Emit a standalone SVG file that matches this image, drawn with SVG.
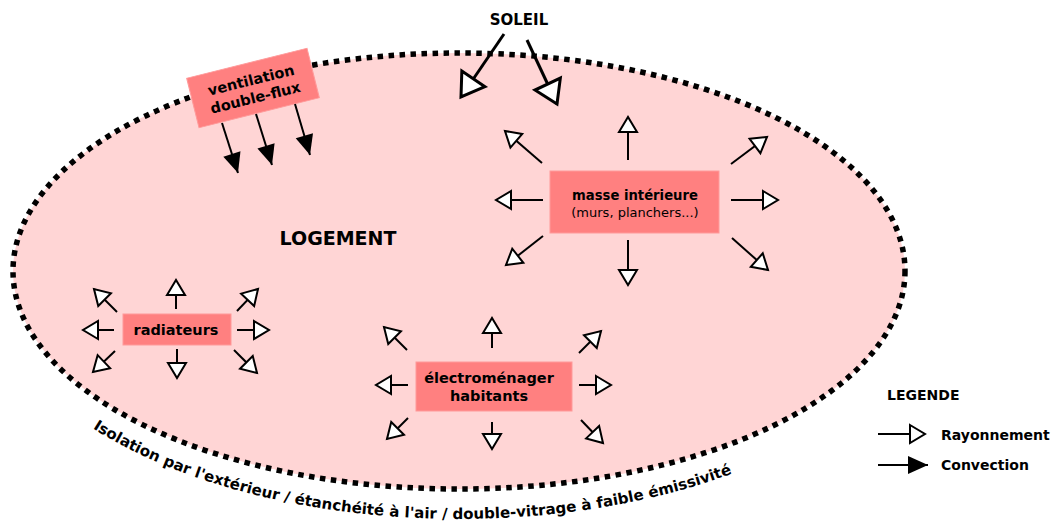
<svg xmlns="http://www.w3.org/2000/svg" width="1058" height="525" viewBox="0 0 1058 525">
<style>
.box{fill:#ff8080;stroke:#ff9a9a;stroke-width:1}
.t{font-family:"DejaVu Sans",Verdana,sans-serif;font-weight:bold;fill:#000}
.r{stroke:#000;stroke-width:2;fill:none;marker-end:url(#rad)}
.c{stroke:#000;stroke-width:2;fill:none;marker-end:url(#conv)}
.s{stroke:#000;stroke-width:3;fill:none;marker-end:url(#sun)}
</style>
<defs>
<marker id="rad" markerUnits="userSpaceOnUse" viewBox="-18 -12 21 24" markerWidth="21" markerHeight="24" refX="0" refY="0" orient="auto">
<path d="M-15,-9 L0,0 L-15,9 Z" fill="#fff" stroke="#000" stroke-width="2"/>
</marker>
<marker id="sun" markerUnits="userSpaceOnUse" viewBox="-27 -18 31 36" markerWidth="31" markerHeight="36" refX="0" refY="0" orient="auto">
<path d="M-22,-14 L0,0 L-22,14 Z" fill="#fff" stroke="#000" stroke-width="3"/>
</marker>
<marker id="conv" markerUnits="userSpaceOnUse" viewBox="-22 -11 24 22" markerWidth="24" markerHeight="22" refX="0" refY="0" orient="auto">
<path d="M-20,-9 L0,0 L-20,9 Z" fill="#000"/>
</marker>
<path id="bottomArc" d="M-15,271 A474,248 0 0 0 933,271"/>
</defs>

<g id="logement">
<ellipse cx="459" cy="271" rx="446" ry="218" fill="#ffd5d5" stroke="#000" stroke-width="5.5" stroke-dasharray="5.5 5.5"/>
<text class="t" x="338" y="245" font-size="19" text-anchor="middle">LOGEMENT</text>
<text class="t" font-size="15"><textPath href="#bottomArc" startOffset="529" text-anchor="middle">Isolation par l'extérieur / étanchéité à l'air / double-vitrage à faible émissivité</textPath></text>
</g>

<g id="soleil">
<text class="t" x="519" y="25" font-size="15" text-anchor="middle">SOLEIL</text>
</g>

<g id="ventilation" transform="translate(253,88) rotate(-14)">
<rect class="box" x="-62" y="-25.5" width="124" height="51"/>
<text class="t" x="0" y="-3" font-size="14.5" text-anchor="middle">ventilation</text>
<text class="t" x="0" y="15" font-size="14.5" text-anchor="middle">double-flux</text>
</g>

<g id="masse">
<rect class="box" x="550" y="171" width="169" height="62"/>
<text class="t" x="635" y="200" font-size="13.2" text-anchor="middle">masse intérieure</text>
<text x="635" y="217" font-size="13" text-anchor="middle" font-family="DejaVu Sans,Verdana,sans-serif">(murs, planchers...)</text>
</g>

<g id="radiateurs">
<rect class="box" x="123" y="314" width="108" height="31"/>
<text class="t" x="176" y="335" font-size="14.5" text-anchor="middle">radiateurs</text>
</g>

<g id="electromenager">
<rect class="box" x="416" y="362" width="156" height="49"/>
<text class="t" x="489" y="383" font-size="14.5" text-anchor="middle">électroménager</text>
<text class="t" x="489" y="401" font-size="14.5" text-anchor="middle">habitants</text>
</g>

<g id="legende">
<text class="t" x="887" y="400" font-size="14">LEGENDE</text>
<line class="r" x1="878" y1="434" x2="925" y2="434"/>
<text class="t" x="941" y="440" font-size="14">Rayonnement</text>
<line class="c" x1="878" y1="465" x2="928" y2="465"/>
<text class="t" x="941" y="470" font-size="14">Convection</text>
</g>

<g id="connectors">
<!-- sun -->
<line class="s" x1="504" y1="34" x2="461" y2="97"/>
<line class="s" x1="527" y1="40" x2="557" y2="104"/>
<!-- ventilation convection -->
<line class="c" x1="222" y1="123" x2="238" y2="173"/>
<line class="c" x1="256" y1="114" x2="272" y2="165"/>
<line class="c" x1="295" y1="104" x2="310" y2="155"/>
<!-- masse -->
<line class="r" x1="628" y1="160" x2="628" y2="117"/>
<line class="r" x1="542" y1="163" x2="505" y2="131"/>
<line class="r" x1="731" y1="164" x2="767" y2="137"/>
<line class="r" x1="543" y1="200" x2="496" y2="200"/>
<line class="r" x1="731" y1="200" x2="778" y2="200"/>
<line class="r" x1="543" y1="236" x2="506" y2="265"/>
<line class="r" x1="628" y1="240" x2="628" y2="285"/>
<line class="r" x1="732" y1="238" x2="768" y2="270"/>
<!-- radiateurs -->
<line class="r" x1="176" y1="309" x2="176" y2="280"/>
<line class="r" x1="117" y1="312" x2="94" y2="289"/>
<line class="r" x1="237" y1="311" x2="258" y2="289"/>
<line class="r" x1="114" y1="330" x2="83" y2="330"/>
<line class="r" x1="237" y1="330" x2="269" y2="330"/>
<line class="r" x1="115" y1="351" x2="93" y2="372"/>
<line class="r" x1="177" y1="349" x2="177" y2="378"/>
<line class="r" x1="234" y1="350" x2="257" y2="373"/>
<!-- electromenager -->
<line class="r" x1="492" y1="348" x2="492" y2="318"/>
<line class="r" x1="407" y1="350" x2="384" y2="327"/>
<line class="r" x1="579" y1="353" x2="601" y2="331"/>
<line class="r" x1="408" y1="385" x2="376" y2="385"/>
<line class="r" x1="579" y1="385" x2="611" y2="385"/>
<line class="r" x1="408" y1="418" x2="387" y2="439"/>
<line class="r" x1="492" y1="422" x2="492" y2="449"/>
<line class="r" x1="581" y1="420" x2="603" y2="443"/>
</g>
</svg>
